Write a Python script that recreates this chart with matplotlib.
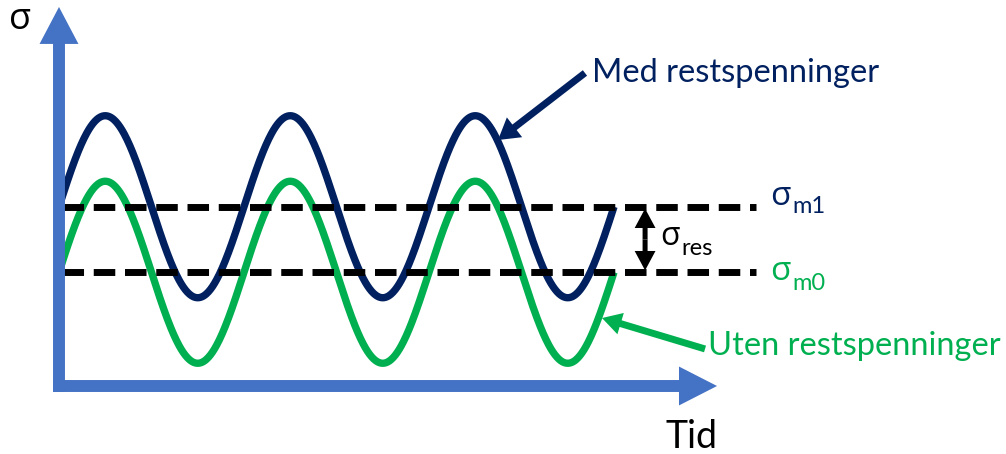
import numpy as np
import matplotlib
matplotlib.use("Agg")
import matplotlib.pyplot as plt
from matplotlib.patches import FancyArrowPatch

plt.rcParams['font.family'] = ['Lato', 'DejaVu Sans']
greek = ['Open Sans', 'DejaVu Sans']

# stress cycle, time in periods, stress in amplitude units
amplitude = 1.0
mean_with_res = 1.97      # sigma_m1
mean_without_res = 1.25   # sigma_m0
t_start, t_end = 0.0, 3.0
mean_line_start, mean_line_end = 0.016, 3.77
res_arrow_t = 3.168

navy = '#002060'
green = '#00B050'
axis_blue = '#4472C4'

t = np.linspace(t_start, t_end, 800)
sig_with = mean_with_res + amplitude * np.sin(2 * np.pi * t)
sig_without = mean_without_res + amplitude * np.sin(2 * np.pi * t)

fig = plt.figure(figsize=(10.06, 4.54), dpi=100)
ax = fig.add_axes([0, 0, 1, 1])
ax.set_xlim(-0.3189, 5.1189)
ax.set_ylim(-0.7473, 4.2418)
ax.axis('off')


def arrow(p0, p1, color, tail, head_w, head_l, z=5):
    style = f'simple,head_length={head_l},head_width={head_w},tail_width={tail}'
    ax.add_patch(FancyArrowPatch(p0, p1, arrowstyle=style, mutation_scale=1,
                                 shrinkA=0, shrinkB=0, color=color, lw=0,
                                 zorder=z))


# waves
ax.plot(t, sig_without, color=green, lw=5.3, solid_capstyle='butt', zorder=2)
ax.plot(t, sig_with, color=navy, lw=5.3, solid_capstyle='butt', zorder=3)

# mean stress lines
for m in (mean_with_res, mean_without_res):
    ax.plot([mean_line_start, mean_line_end], [m, m], color='black', lw=5,
            linestyle=(0, (3.1, 1.4)), dash_capstyle='butt', zorder=4)

# axes arrows
arrow((0, -0.066), (0, 4.165), axis_blue, 8.6, 28, 26.6, z=6)
arrow((-0.032, 0), (3.557, 0), axis_blue, 8.6, 28, 27.4, z=6)

# residual stress double arrow
mid = (mean_with_res + mean_without_res) / 2
arrow((res_arrow_t, mid), (res_arrow_t, mean_with_res - 0.02), 'black', 3.6, 15, 14)
arrow((res_arrow_t, mid), (res_arrow_t, mean_without_res + 0.02), 'black', 3.6, 15, 14)

# callout arrows
arrow((2.843, 3.44), (2.373, 2.703), navy, 5, 18, 15)
arrow((3.492, 0.407), (2.935, 0.747), green, 5, 16, 14)

# labels
ax.text(-0.27, 3.923, 'σ', fontsize=26, family=greek, color='black',
        ha='left', va='baseline')
ax.text(3.276, -0.68, 'Tid', fontsize=27, color='black', ha='left', va='baseline')
ax.text(2.881, 3.341, 'Med restspenninger', fontsize=23.5, color=navy,
        ha='left', va='baseline')
ax.text(3.508, 0.341, 'Uten restspenninger', fontsize=23.5, color=green,
        ha='left', va='baseline')

ax.text(3.845, 1.989, 'σ', fontsize=24, family=greek, color=navy,
        ha='left', va='baseline')
ax.text(3.962, 1.901, 'm1', fontsize=17, color=navy, ha='left', va='baseline')
ax.text(3.845, 1.165, 'σ', fontsize=24, family=greek, color=green,
        ha='left', va='baseline')
ax.text(3.962, 1.055, 'm0', fontsize=17, color=green, ha='left', va='baseline')
ax.text(3.252, 1.549, 'σ', fontsize=23, family=greek, color='black',
        ha='left', va='baseline')
ax.text(3.362, 1.440, 'res', fontsize=17, color='black', ha='left', va='baseline')

fig.savefig('out.png', dpi=100)
